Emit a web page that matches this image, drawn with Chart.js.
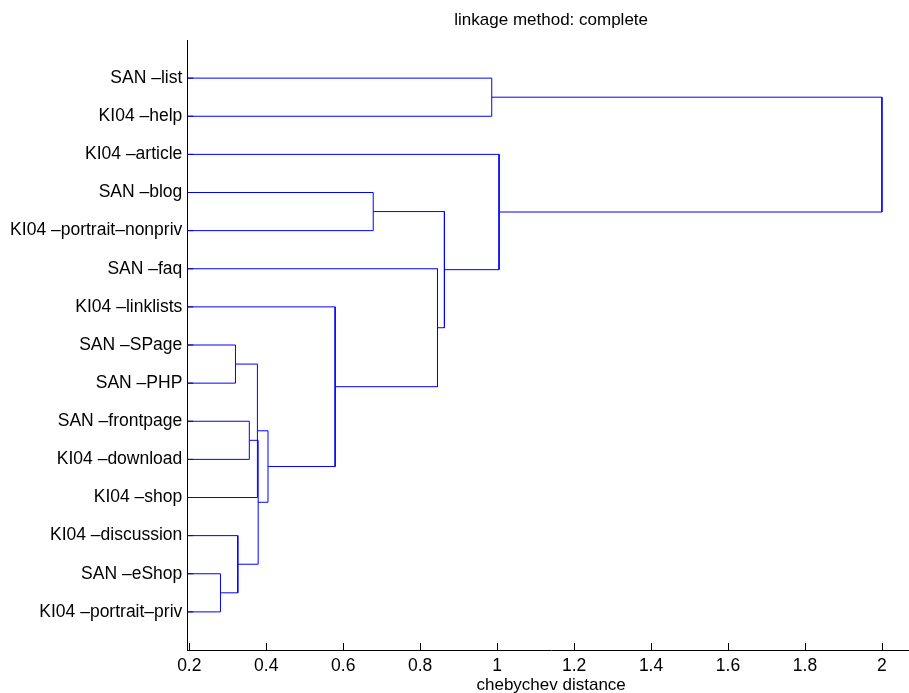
<!DOCTYPE html>
<html>
<head>
<meta charset="utf-8">
<script src="https://cdn.jsdelivr.net/npm/chart.js@4"></script>
<style>
html,body{margin:0;padding:0;background:#fff;overflow:hidden;}
#wrap{width:909px;height:693px;overflow:hidden;}
canvas{display:block;}
</style>
</head>
<body>
<div id="wrap"><canvas id="c" width="915" height="693"></canvas></div>
<script>
// Leaves, bottom (position 1) to top (position 15)
const leafLabels = [
  "KI04 \u2013portrait\u2013priv",
  "SAN \u2013eShop",
  "KI04 \u2013discussion",
  "KI04 \u2013shop",
  "KI04 \u2013download",
  "SAN \u2013frontpage",
  "SAN \u2013PHP",
  "SAN \u2013SPage",
  "KI04 \u2013linklists",
  "SAN \u2013faq",
  "KI04 \u2013portrait\u2013nonpriv",
  "SAN \u2013blog",
  "KI04 \u2013article",
  "KI04 \u2013help",
  "SAN \u2013list"
];
// Linkage: node ids 1..15 are leaves; merge k creates node 16+k
const mergeA      = [1,     7,     3,     5,     4,     18,    21,    9,     11,    10,    24,    14,    13,    27];
const mergeB      = [2,     8,     16,    6,     17,    19,    20,    22,    12,    23,    25,    15,    26,    28];
const mergeHeight = [0.281, 0.320, 0.326, 0.356, 0.377, 0.379, 0.4045,0.579, 0.678, 0.845, 0.863, 0.986, 1.005, 2.000];
const xTicks = [0.2,0.4,0.6,0.8,1,1.2,1.4,1.6,1.8,2];

const xMin = 0.1948, xMax = 2.086;
const FONT = "'Liberation Sans', Arial, Helvetica, sans-serif";

// compute node positions
const nodeY = {}, nodeH = {};
leafLabels.forEach((_, i) => { nodeY[i+1] = i+1; nodeH[i+1] = 0; });
const datasets = [];
mergeA.forEach((a, k) => {
  const b = mergeB[k], h = mergeHeight[k], id = 16 + k;
  nodeY[id] = (nodeY[a] + nodeY[b]) / 2;
  nodeH[id] = h;
  datasets.push({
    data: [
      {x: nodeH[a], y: nodeY[a]},
      {x: h, y: nodeY[a]},
      {x: h, y: nodeY[b]},
      {x: nodeH[b], y: nodeY[b]}
    ],
    showLine: true,
    borderColor: '#0000ff',
    borderWidth: 1,
    pointRadius: 0,
    pointHoverRadius: 0,
    fill: false,
    tension: 0
  });
});

const inwardTicks = {
  id: 'inwardTicks',
  beforeDatasetsDraw(chart) {
    const {ctx, chartArea, scales} = chart;
    ctx.save();
    ctx.strokeStyle = '#000';
    ctx.lineWidth = 1;
    ctx.beginPath();
    xTicks.forEach(v => {
      const px = Math.round(scales.x.getPixelForValue(v)) + 0.5;
      ctx.moveTo(px, chartArea.bottom);
      ctx.lineTo(px, chartArea.bottom - 7);
    });
    leafLabels.forEach((_, i) => {
      const py = scales.y.getPixelForValue(i+1);
      ctx.moveTo(chartArea.left, py);
      ctx.lineTo(chartArea.left + 6, py);
    });
    ctx.stroke();
    ctx.restore();
  }
};

new Chart(document.getElementById('c'), {
  type: 'scatter',
  data: { datasets },
  options: {
    responsive: false,
    animation: false,
    events: [],
    layout: { padding: 0 },
    plugins: {
      legend: { display: false },
      tooltip: { enabled: false },
      title: { display: false }
    },
    scales: {
      x: {
        type: 'linear',
        min: xMin, max: xMax,
        afterBuildTicks: s => { s.ticks = xTicks.map(v => ({value: v})); },
        afterFit: s => { s.height = 43; },
        grid: { display: false, drawTicks: false },
        border: { display: true, color: '#000', width: 1 },
        ticks: {
          color: '#000', padding: 6, autoSkip: false, maxRotation: 0,
          font: { family: FONT, size: 17.5 },
          callback: v => String(v)
        },
        title: {
          display: true, text: 'chebychev distance', color: '#000',
          font: { family: FONT, size: 17 },
          padding: { top: 0, bottom: -3 }
        }
      },
      top: {
        type: 'linear',
        position: 'top',
        min: xMin, max: xMax,
        afterFit: s => { s.height = 40; },
        grid: { display: false, drawTicks: false },
        border: { display: false },
        ticks: { display: false },
        title: {
          display: true, text: 'linkage method: complete', color: '#000',
          font: { family: FONT, size: 17 },
          padding: { top: 10, bottom: 0 }
        }
      },
      y: {
        type: 'linear',
        min: 0, max: 16,
        afterBuildTicks: s => { s.ticks = leafLabels.map((_, i) => ({value: i+1})); },
        afterFit: s => { s.width = 187.3; },
        grid: { display: false, drawTicks: false },
        border: { display: true, color: '#000', width: 1 },
        ticks: {
          color: '#000', padding: 5, autoSkip: false,
          font: { family: FONT, size: 17.5 },
          callback: v => leafLabels[v-1]
        }
      }
    }
  },
  plugins: [inwardTicks]
});
</script>
</body>
</html>
